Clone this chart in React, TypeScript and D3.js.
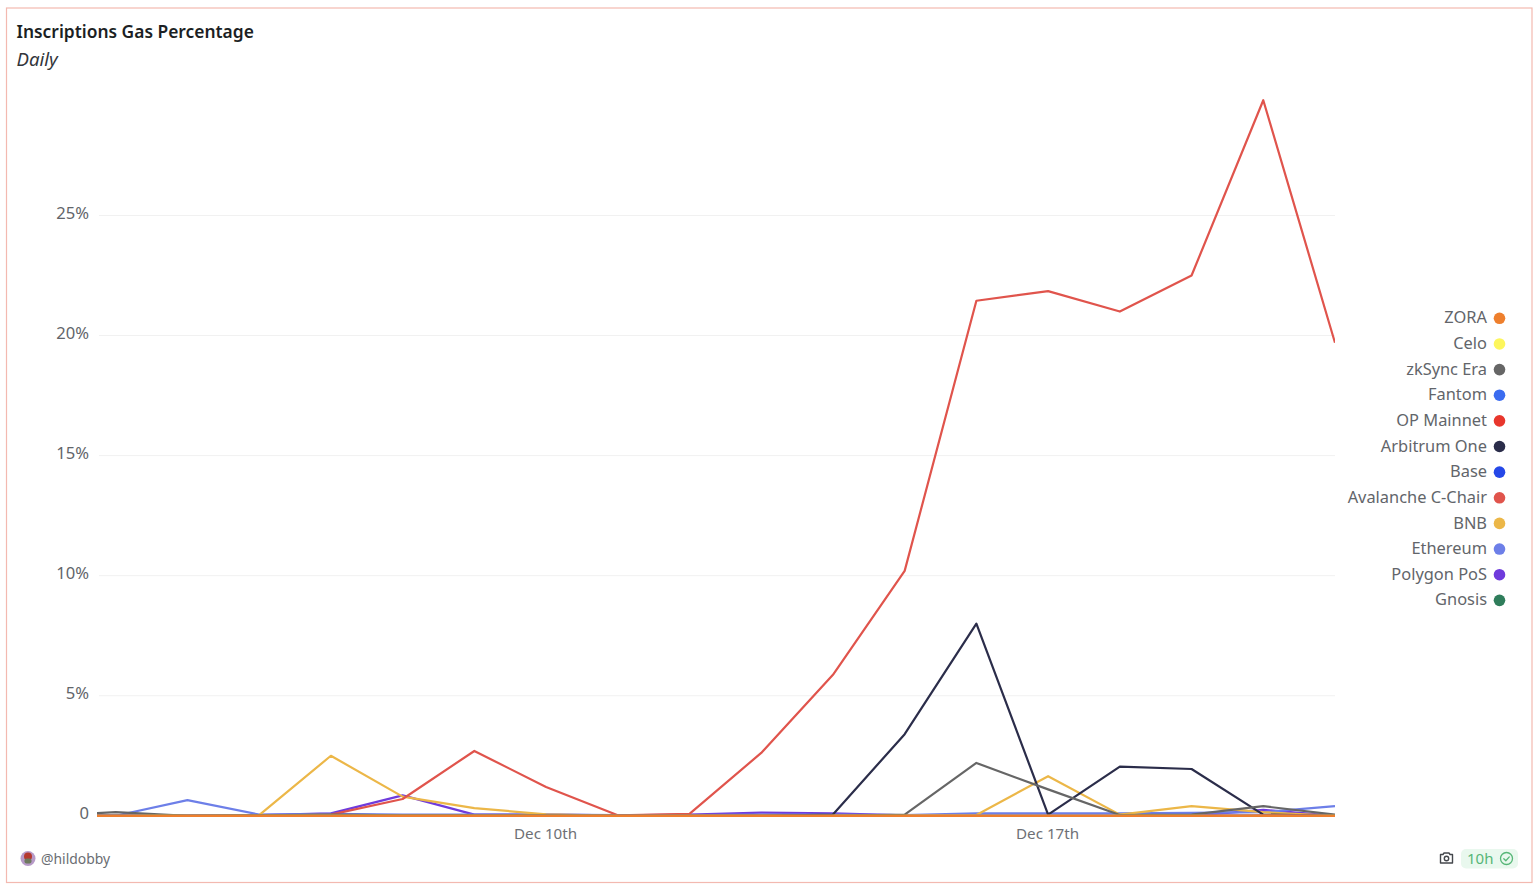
import * as d3 from 'd3';

const days = [
  '2023-12-03', '2023-12-04', '2023-12-05', '2023-12-06', '2023-12-07', '2023-12-08', '2023-12-09',
  '2023-12-10', '2023-12-11', '2023-12-12', '2023-12-13', '2023-12-14', '2023-12-15', '2023-12-16',
  '2023-12-17', '2023-12-18', '2023-12-19', '2023-12-20', '2023-12-21',
];

const gnosis = [0, 0, 0, 0, 0, 0, 0, 0, 0, 0, 0, 0, 0, 0, 0, 0, 0, 0, 0];
const polygon = [0, 0, 0, 0.03, 0.1, 0.85, 0.05, 0.05, 0.02, 0.05, 0.13, 0.1, 0.02, 0, 0, 0, 0, 0.25, 0];
const ethereum = [0, 0, 0.65, 0.05, 0.08, 0.05, 0.05, 0.05, 0.03, 0.03, 0.05, 0.05, 0.03, 0.1, 0.1, 0.1, 0.12, 0.15, 0.4];
const bnb = [0, 0, 0, 0.03, 2.5, 0.8, 0.32, 0.06, 0, 0, 0.02, 0.02, 0.03, 0.03, 1.65, 0.05, 0.4, 0.15, 0];
const avalanche = [0, 0, 0, 0, 0.05, 0.7, 2.7, 1.2, 0.02, 0.08, 2.62, 5.87, 10.2, 21.45, 21.85, 21.0, 22.5, 29.8, 19.7];
const base = [0, 0, 0, 0, 0, 0, 0, 0, 0, 0, 0, 0, 0, 0, 0, 0, 0, 0, 0];
const arbitrum = [0, 0, 0, 0, 0, 0, 0, 0, 0, 0, 0, 0.05, 3.4, 8.0, 0.05, 2.05, 1.95, 0.05, 0];
const opMainnet = [0, 0, 0, 0, 0, 0, 0, 0, 0, 0, 0, 0, 0, 0, 0, 0, 0, 0.02, 0];
const fantom = [0, 0, 0, 0, 0, 0, 0, 0, 0, 0, 0, 0, 0, 0, 0, 0, 0, 0, 0];
const zkSync = [0, 0.15, 0, 0.02, 0.05, 0.02, 0.02, 0.02, 0, 0, 0, 0, 0.05, 2.2, 1.1, 0.03, 0.05, 0.4, 0.05];
const celo = [0, 0, 0, 0, 0, 0, 0, 0, 0, 0, 0, 0, 0, 0, 0, 0, 0, 0, 0];
const zora = [0, 0, 0, 0, 0, 0, 0, 0, 0, 0, 0, 0, 0, 0, 0, 0, 0, 0, 0];

// legend order, top to bottom; lines are drawn bottom to top
const names = [
  'ZORA', 'Celo', 'zkSync Era', 'Fantom', 'OP Mainnet', 'Arbitrum One',
  'Base', 'Avalanche C-Chair', 'BNB', 'Ethereum', 'Polygon PoS', 'Gnosis',
];
const colors = [
  '#ee7f2d', '#fdf65c', '#666666', '#3b6cf0', '#e8362c', '#2b2d4a',
  '#2548e8', '#e0544c', '#ecb748', '#6d7fe8', '#6f3bdc', '#2f7d5b',
];
const values = [zora, celo, zkSync, fantom, opMainnet, arbitrum, base, avalanche, bnb, ethereum, polygon, gnosis];

const yTicks = [0, 5, 10, 15, 20, 25];
const xTickDays = ['2023-12-10', '2023-12-17'];
const xTickLabels = ['Dec 10th', 'Dec 17th'];

const width = 1536;
const height = 890;
const font = '"Noto Sans", sans-serif';
const parse = d3.utcParse('%Y-%m-%d');

export default function App() {
  const dates = days.map((d) => parse(d) as Date);
  const x = d3.scaleUtc([dates[0], dates[dates.length - 1]], [44, 1335]);
  const y = d3.scaleLinear([0, 25], [815.8, 215.5]);
  const line = d3.line<number>((d, i) => x(dates[i]), (d) => y(d));

  return (
    <svg
      width={width}
      height={height}
      viewBox={`0 0 ${width} ${height}`}
      style={{ position: 'absolute', left: 0, top: 0, display: 'block', fontFamily: font }}
    >
      <rect width={width} height={height} fill="#fff" />
      <rect x={6.5} y={8} width={1525.5} height={874.5} fill="#fff" stroke="#f3b9b0" strokeWidth={1.2} />

      <text x={16.5} y={38} fontSize={17.4} fontWeight={600} fill="#1c1f24">Inscriptions Gas Percentage</text>
      <text x={16.5} y={66} fontSize={18.6} fontStyle="italic" fill="#33363b">Daily</text>

      <defs>
        <clipPath id="plot">
          <rect x={97} y={20} width={1238} height={810} />
        </clipPath>
      </defs>

      {yTicks.map((t) => (
        <g key={t}>
          {t > 0 && <line x1={99} x2={1335} y1={y(t)} y2={y(t)} stroke="#f1f1f1" strokeWidth={1} />}
          <text x={89} y={y(t) - 1} textAnchor="end" dominantBaseline="middle" fontSize={16.6} fill="#62656a">
            {t === 0 ? '0' : `${t}%`}
          </text>
        </g>
      ))}

      {xTickDays.map((d, i) => (
        <text key={d} x={x(parse(d) as Date) - 0.5} y={839} textAnchor="middle" fontSize={15.2} fill="#6e7075">
          {xTickLabels[i]}
        </text>
      ))}

      <g clipPath="url(#plot)" fill="none" strokeWidth={2.2} strokeLinejoin="round">
        {d3.range(names.length - 1, -1, -1).map((i) => (
          <path key={names[i]} d={line(values[i]) ?? ''} stroke={colors[i]} />
        ))}
      </g>

      {names.map((name, i) => (
        <g key={name} transform={`translate(0,${318 + i * 25.64})`}>
          <text x={1487} y={1} textAnchor="end" dominantBaseline="middle" fontSize={16.4} fill="#62656a">{name}</text>
          <circle cx={1499.5} cy={0.3} r={5.8} fill={colors[i]} />
        </g>
      ))}

      <circle cx={28} cy={858.5} r={7.5} fill="#b79ac8" />
      <circle cx={28} cy={856.5} r={4} fill="#b5392f" />
      <rect x={24.5} y={858.5} width={7} height={5} rx={2} fill="#6f7a5f" />
      <text x={41} y={863.5} fontSize={13.9} fill="#6a6d72">@hildobby</text>

      <g fill="none" stroke="#44474c" strokeWidth={1.4} strokeLinejoin="round">
        <path d="M1440.5 854.5h2.5l1-1.5h5l1 1.5h2.5v8.5h-12z" />
        <circle cx={1446.5} cy={858.5} r={2.2} />
      </g>
      <rect x={1461} y={849} width={57} height={19.5} rx={5} fill="#e9f8ee" />
      <text x={1467} y={864} fontSize={15} fill="#56b677">10h</text>
      <g fill="none" stroke="#56b677" strokeWidth={1.3} strokeLinejoin="round" strokeLinecap="round">
        <circle cx={1506.5} cy={858.5} r={6} />
        <path d="M1503.8 858.7l2 2 3.5-3.8" />
      </g>
    </svg>
  );
}
